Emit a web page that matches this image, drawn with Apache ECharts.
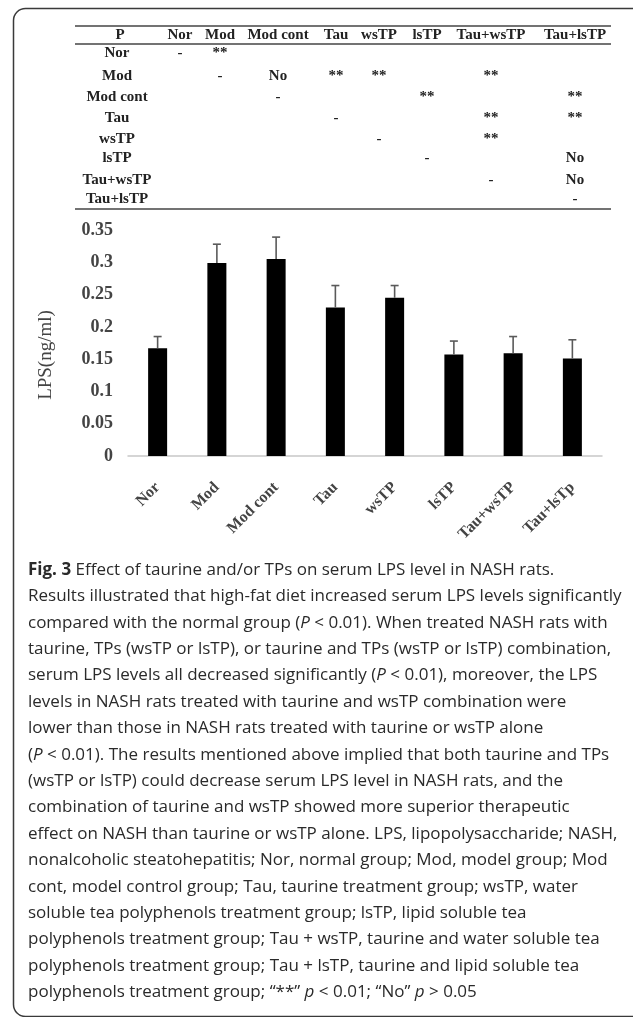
<!DOCTYPE html>
<html>
<head>
<meta charset="utf-8">
<script src="https://cdn.jsdelivr.net/npm/echarts@6/dist/echarts.min.js"></script>
<style>
  html, body { margin: 0; padding: 0; background: #ffffff; }
  #chart { width: 633px; height: 1017px; }
</style>
</head>
<body>
<div id="chart"></div>
<script>
// ---------------- DATA ----------------
const categories = ['Nor', 'Mod', 'Mod cont', 'Tau', 'wsTP', 'lsTP', 'Tau+wsTP', 'Tau+lsTp'];
const lpsMean = [0.167, 0.299, 0.305, 0.230, 0.245, 0.157, 0.159, 0.151];
const lpsErrTop = [0.185, 0.328, 0.339, 0.264, 0.264, 0.178, 0.185, 0.180];
const yAxisName = 'LPS(ng/ml)';

const tableCorner = 'P';
const tableCols = ['Nor', 'Mod', 'Mod cont', 'Tau', 'wsTP', 'lsTP', 'Tau+wsTP', 'Tau+lsTP'];
const tableRows = ['Nor', 'Mod', 'Mod cont', 'Tau', 'wsTP', 'lsTP', 'Tau+wsTP', 'Tau+lsTP'];
const tableCells = [
  ['-', '**', '', '', '', '', '', ''],
  ['', '-', 'No', '**', '**', '', '**', ''],
  ['', '', '-', '', '', '**', '', '**'],
  ['', '', '', '-', '', '', '**', '**'],
  ['', '', '', '', '-', '', '**', ''],
  ['', '', '', '', '', '-', '', 'No'],
  ['', '', '', '', '', '', '-', 'No'],
  ['', '', '', '', '', '', '', '-']
];

const captionLines = [
  '{b|Fig. 3} Effect of taurine and/or TPs on serum LPS level in NASH rats.',
  'Results illustrated that high-fat diet increased serum LPS levels significantly',
  'compared with the normal group ({i|P} < 0.01). When treated NASH rats with',
  'taurine, TPs (wsTP or lsTP), or taurine and TPs (wsTP or lsTP) combination,',
  'serum LPS levels all decreased significantly ({i|P} < 0.01), moreover, the LPS',
  'levels in NASH rats treated with taurine and wsTP combination were',
  'lower than those in NASH rats treated with taurine or wsTP alone',
  '({i|P} < 0.01). The results mentioned above implied that both taurine and TPs',
  '(wsTP or lsTP) could decrease serum LPS level in NASH rats, and the',
  'combination of taurine and wsTP showed more superior therapeutic',
  'effect on NASH than taurine or wsTP alone. LPS, lipopolysaccharide; NASH,',
  'nonalcoholic steatohepatitis; Nor, normal group; Mod, model group; Mod',
  'cont, model control group; Tau, taurine treatment group; wsTP, water',
  'soluble tea polyphenols treatment group; lsTP, lipid soluble tea',
  'polyphenols treatment group; Tau + wsTP, taurine and water soluble tea',
  'polyphenols treatment group; Tau + lsTP, taurine and lipid soluble tea',
  'polyphenols treatment group; \u201c**\u201d {i|p} < 0.01; \u201cNo\u201d {i|p} > 0.05'
];

// ---------------- LAYOUT ----------------
const SERIF = '"Liberation Serif", "Times New Roman", serif';
const SANS = '"Open Sans", "Noto Sans", sans-serif';
const tableLabelX = 117;
const tableColX = [180, 220, 278, 336, 379, 427, 491, 575];
const tableHeaderY = 35;
const tableRowY = [53, 76, 97, 118, 139, 158, 180, 199];
const tableLineLeft = 75, tableLineRight = 611;
const tableLinesY = [26, 44, 209];
const captionX = 28, captionY0 = 570, captionPitch = 26.4;

const chart = echarts.init(document.getElementById('chart'), null, { renderer: 'canvas' });

const graphics = [];
// frame
graphics.push({
  type: 'rect', silent: true,
  shape: { x: 13.5, y: 8.5, width: 640, height: 1008, r: 12 },
  style: { fill: 'none', stroke: '#3a3a3a', lineWidth: 1.5 }
});
// table rules
tableLinesY.forEach(y => graphics.push({
  type: 'line', silent: true,
  shape: { x1: tableLineLeft, y1: y, x2: tableLineRight, y2: y },
  style: { stroke: '#444', lineWidth: 1.6 }
}));
function tableText(x, y, t) {
  return {
    type: 'text', silent: true, x: x, y: y,
    style: { text: t, fontFamily: SERIF, fontWeight: 'bold', fontSize: 15, fill: '#222',
             align: 'center', verticalAlign: 'middle' }
  };
}
graphics.push(tableText(tableLabelX + 3, tableHeaderY, tableCorner));
tableCols.forEach((c, j) => graphics.push(tableText(tableColX[j], tableHeaderY, c)));
tableRows.forEach((r, i) => {
  graphics.push(tableText(tableLabelX, tableRowY[i], r));
  tableCells[i].forEach((v, j) => { if (v) graphics.push(tableText(tableColX[j], tableRowY[i], v)); });
});
// caption
captionLines.forEach((line, k) => graphics.push({
  type: 'text', silent: true, x: captionX, y: captionY0 + k * captionPitch,
  style: {
    text: line, fontFamily: SANS, fontSize: 17, fill: '#2a2a2a', verticalAlign: 'middle',
    rich: {
      b: { fontFamily: SANS, fontSize: 17, fontWeight: 'bold', fill: '#2a2a2a' },
      i: { fontFamily: SANS, fontSize: 17, fontStyle: 'italic', fill: '#2a2a2a' }
    }
  }
}));

const option = {
  backgroundColor: '#ffffff',
  animation: false,
  grid: { left: 128, right: 31, top: 230, bottom: 561, containLabel: false },
  xAxis: {
    type: 'category', data: categories,
    axisLine: { lineStyle: { color: '#c8c8c8', width: 1.5 } },
    axisTick: { show: false },
    axisLabel: { rotate: 45, margin: 29, interval: 0, fontFamily: SERIF, fontWeight: 'bold',
                 fontSize: 16, color: '#444', verticalAlign: 'middle' }
  },
  yAxis: {
    type: 'value', min: 0, max: 0.35, interval: 0.05,
    name: yAxisName, nameLocation: 'middle', nameGap: 72, nameRotate: 90,
    nameTextStyle: { fontFamily: SERIF, fontSize: 19, color: '#444', padding: [0, 24, 0, 0] },
    axisLine: { show: false }, axisTick: { show: false }, splitLine: { show: false },
    axisLabel: { margin: 15, fontFamily: SERIF, fontWeight: 'bold', fontSize: 18, color: '#444',
                 formatter: v => String(+v.toFixed(2)) }
  },
  series: [
    {
      type: 'bar', data: lpsMean, barWidth: 19,
      itemStyle: { color: '#000000' }, z: 2
    },
    {
      type: 'custom', z: 3,
      data: lpsErrTop.map((e, i) => [i, lpsMean[i], e]),
      renderItem: function (params, api) {
        const base = api.coord([api.value(0), api.value(1)]);
        const top = api.coord([api.value(0), api.value(2)]);
        const hw = 4;
        return {
          type: 'group',
          children: [
            { type: 'line', shape: { x1: base[0], y1: base[1], x2: top[0], y2: top[1] },
              style: { stroke: '#5a5a5a', lineWidth: 1.6 } },
            { type: 'line', shape: { x1: top[0] - hw, y1: top[1], x2: top[0] + hw, y2: top[1] },
              style: { stroke: '#5a5a5a', lineWidth: 1.6 } }
          ]
        };
      }
    }
  ],
  graphic: graphics
};
chart.setOption(option);
</script>
</body>
</html>
